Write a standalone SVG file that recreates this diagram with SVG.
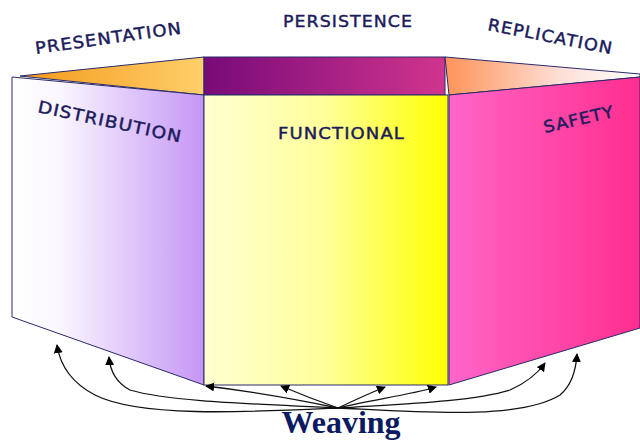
<svg xmlns="http://www.w3.org/2000/svg" width="640" height="441" viewBox="0 0 640 441">
<defs>
<linearGradient id="gPres" x1="0" y1="0" x2="1" y2="0"><stop offset="0" stop-color="#f49a1c"/><stop offset="1" stop-color="#ffcf6a"/></linearGradient>
<linearGradient id="gPers" x1="0" y1="0" x2="1" y2="0"><stop offset="0" stop-color="#780a78"/><stop offset="1" stop-color="#d0358e"/></linearGradient>
<linearGradient id="gRepl" x1="0" y1="0" x2="1" y2="0"><stop offset="0" stop-color="#ff9358"/><stop offset="0.6" stop-color="#fde0d8"/><stop offset="1" stop-color="#ffffff"/></linearGradient>
<linearGradient id="gDist" x1="0" y1="0" x2="1" y2="0"><stop offset="0" stop-color="#ffffff"/><stop offset="0.25" stop-color="#faf6ff"/><stop offset="1" stop-color="#c596f5"/></linearGradient>
<linearGradient id="gFunc" x1="0" y1="0" x2="1" y2="0"><stop offset="0" stop-color="#ffffd2"/><stop offset="0.5" stop-color="#ffff9a"/><stop offset="1" stop-color="#ffff00"/></linearGradient>
<linearGradient id="gSafe" x1="0" y1="0" x2="1" y2="0"><stop offset="0" stop-color="#ff66c8"/><stop offset="1" stop-color="#ff2e8e"/></linearGradient>
<marker id="ah" viewBox="0 0 10 10" refX="9" refY="5" markerWidth="9" markerHeight="9" markerUnits="userSpaceOnUse" orient="auto"><path d="M0,0 L10,5 L0,10 z" fill="#000"/></marker>
<style>
.panel{stroke:#2a2a6a;stroke-width:1}
.lbl{font-family:"DejaVu Sans","Liberation Sans",sans-serif;font-size:16.5px;fill:#1c1c5c;stroke:#1c1c5c;stroke-width:0.45px;letter-spacing:1px}
.arr{fill:none;stroke:#111;stroke-width:1.3;marker-end:url(#ah)}
</style>
</defs>
<rect width="640" height="441" fill="#fff"/>
<g id="presentation">
<polygon class="panel" points="20,76 204,57 204,95" fill="url(#gPres)"/>
<text class="lbl" transform="translate(36,54) rotate(-8)" textLength="148" lengthAdjust="spacingAndGlyphs">PRESENTATION</text>
</g>
<g id="persistence">
<rect class="panel" x="204" y="57" width="241" height="38" fill="url(#gPers)"/>
<text class="lbl" x="283" y="27" textLength="130" lengthAdjust="spacingAndGlyphs">PERSISTENCE</text>
</g>
<g id="replication">
<polygon class="panel" points="445,57 640,74 640,77 449,95" fill="url(#gRepl)"/>
<text class="lbl" transform="translate(487,30) rotate(11)" textLength="127" lengthAdjust="spacingAndGlyphs">REPLICATION</text>
</g>
<g id="distribution">
<polygon class="panel" points="12,77 204,95 204,385 12,317" fill="url(#gDist)"/>
<text class="lbl" transform="translate(37,112) rotate(12)" textLength="147" lengthAdjust="spacingAndGlyphs">DISTRIBUTION</text>
</g>
<g id="functional">
<rect class="panel" x="204" y="95" width="244" height="290" fill="url(#gFunc)"/>
<text class="lbl" x="278" y="139" textLength="127" lengthAdjust="spacingAndGlyphs">FUNCTIONAL</text>
</g>
<g id="safety">
<polygon class="panel" points="449,95 640,77 640,328 449,385" fill="url(#gSafe)"/>
<text class="lbl" transform="translate(545,133) rotate(-13)" textLength="72" lengthAdjust="spacingAndGlyphs">SAFETY</text>
</g>
<g id="connectors">
<path class="arr" d="M338,408 C250,412 140,418 95,395 C70,382 60,365 57,345"/>
<path class="arr" d="M338,408 C260,404 170,402 130,390 C115,382 110,370 109,357"/>
<path class="arr" d="M338,408 C290,398 240,390 206,386"/>
<path class="arr" d="M338,408 C315,400 295,392 281,386"/>
<path class="arr" d="M338,408 C355,400 370,393 385,387"/>
<path class="arr" d="M338,408 C370,400 410,395 436,387"/>
<path class="arr" d="M338,408 C400,404 470,402 510,390 C528,382 538,373 545,363"/>
<path class="arr" d="M338,408 C420,412 520,420 560,395 C572,385 576,370 577,354"/>
</g>
<g id="weaving">
<text x="341" y="433" text-anchor="middle" font-family="Liberation Serif, serif" font-weight="bold" font-size="32" fill="#0c1a62">Weaving</text>
</g>
</svg>
